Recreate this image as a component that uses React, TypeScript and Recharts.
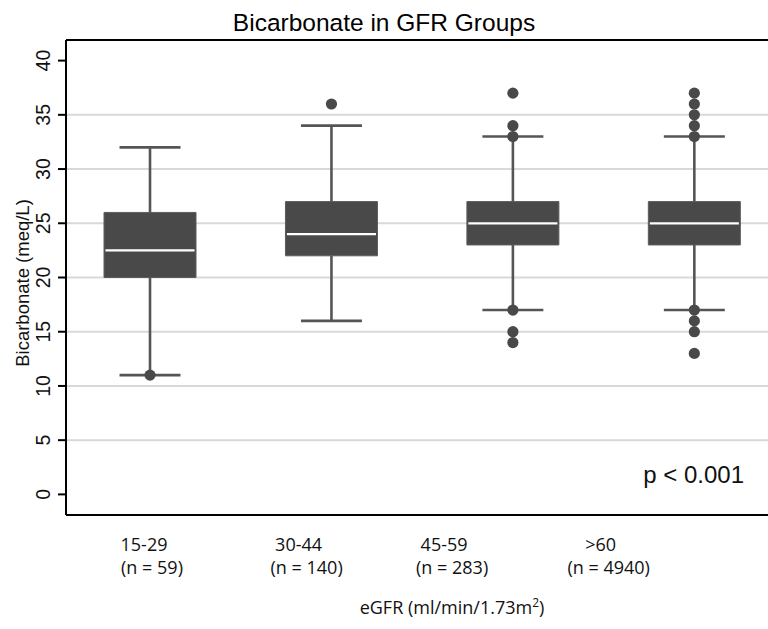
import React from 'react';
import {
  ComposedChart,
  XAxis,
  YAxis,
  CartesianGrid,
  ReferenceArea,
  ReferenceLine,
  Scatter,
  Customized,
} from 'recharts';

// eGFR groups and their box plot statistics (Bicarbonate, meq/L)
const groups = ['15-29', '30-44', '45-59', '>60'];
const counts = [59, 140, 283, 4940];
const q1 = [20, 22, 23, 23];
const median = [22.5, 24, 25, 25];
const q3 = [26, 27, 27, 27];
const whiskerLow = [11, 16, 17, 17];
const whiskerHigh = [32, 34, 33, 33];
const outliers = [
  [11],
  [36],
  [37, 34, 33, 17, 15, 14],
  [37, 36, 35, 34, 33, 17, 16, 15, 13],
];
const yTicks = [0, 5, 10, 15, 20, 25, 30, 35, 40];
const gridValues = [5, 10, 15, 20, 25, 30, 35];

// layout constants
const X_DOMAIN: [number, number] = [0.537, 4.406];
const Y_DOMAIN: [number, number] = [-1.9, 41.9];
const BOX_HALF = 0.2535;
const CAP_HALF = 0.168;
const LABEL_SHIFT = [0.011, -0.137, -0.335, -0.472];
const BOX_COLOR = '#494949';
const LINE_COLOR = '#555555';

const outlierPoints = outliers.flatMap((vals, i) => vals.map((v) => ({ g: i + 1, v })));
const labelTicks = groups.map((_, i) => i + 1 + LABEL_SHIFT[i]);

const XTick = (props: any) => {
  const { x, y, index } = props;
  return (
    <g>
      <text x={x - 8} y={y + 28} textAnchor="middle" fontFamily="'Open Sans', sans-serif" fontSize={18} fill="#111">
        {groups[index]}
      </text>
      <text x={x} y={y + 51} textAnchor="middle" fontFamily="'Open Sans', sans-serif" fontSize={18} fill="#111">
        (n = {counts[index]})
      </text>
    </g>
  );
};

const YTick = (props: any) => {
  const { x, y, payload } = props;
  return (
    <text
      x={x}
      y={y}
      transform={`rotate(-90, ${x}, ${y})`}
      textAnchor="middle"
      fontFamily="'Liberation Sans', Arial, sans-serif"
      fontSize={19.5}
      fill="#111"
    >
      {payload.value}
    </text>
  );
};

const Annotations = () => (
  <g>
    <text x={384} y={31} textAnchor="middle" fontFamily="'Liberation Sans', Arial, sans-serif" fontSize={24.5} fill="#000">
      Bicarbonate in GFR Groups
    </text>
    <text
      x={29}
      y={283}
      transform="rotate(-90, 29, 283)"
      textAnchor="middle"
      fontFamily="'Liberation Sans', Arial, sans-serif"
      fontSize={18.5}
      fill="#111"
    >
      Bicarbonate (meq/L)
    </text>
    <text x={744} y={483} textAnchor="end" fontFamily="'Liberation Sans', Arial, sans-serif" fontSize={24} fill="#111">
      p &lt; 0.001
    </text>
    <text x={452} y={614} textAnchor="middle" fontFamily="'Open Sans', sans-serif" fontSize={18} fill="#111">
      eGFR (ml/min/1.73m
      <tspan fontSize={12} dy={-7}>2</tspan>
      <tspan dy={7}>)</tspan>
    </text>
  </g>
);

const Dot = (props: any) => <circle cx={props.cx} cy={props.cy} r={5.6} fill={BOX_COLOR} />;

export default function App() {
  return (
    <div style={{ position: 'absolute', left: 0, top: 0, width: 768, height: 629, background: '#fff' }}>
      <ComposedChart width={768} height={629} margin={{ top: 40, right: 0, bottom: 0, left: 0 }}>
        <CartesianGrid horizontal vertical={false} horizontalValues={gridValues} stroke="#d9d9d9" strokeWidth={2} />
        <XAxis
          type="number"
          dataKey="g"
          domain={X_DOMAIN}
          allowDataOverflow
          ticks={labelTicks}
          tick={<XTick />}
          tickLine={false}
          axisLine={{ stroke: '#000', strokeWidth: 2 }}
          height={114}
          interval={0}
        />
        <YAxis
          type="number"
          dataKey="v"
          domain={Y_DOMAIN}
          allowDataOverflow
          ticks={yTicks}
          tick={<YTick />}
          tickSize={8}
          tickMargin={8}
          tickLine={{ stroke: '#000', strokeWidth: 2 }}
          axisLine={{ stroke: '#000', strokeWidth: 2 }}
          width={66}
          interval={0}
        />
        <ReferenceLine y={Y_DOMAIN[1]} stroke="#000" strokeWidth={2} ifOverflow="visible" />
        {groups.map((g, i) => (
          <ReferenceLine
            key={`wl-${g}`}
            segment={[{ x: i + 1, y: whiskerLow[i] }, { x: i + 1, y: q1[i] }]}
            stroke={LINE_COLOR}
            strokeWidth={2.6}
          />
        ))}
        {groups.map((g, i) => (
          <ReferenceLine
            key={`wh-${g}`}
            segment={[{ x: i + 1, y: q3[i] }, { x: i + 1, y: whiskerHigh[i] }]}
            stroke={LINE_COLOR}
            strokeWidth={2.6}
          />
        ))}
        {groups.map((g, i) => (
          <ReferenceLine
            key={`cl-${g}`}
            segment={[{ x: i + 1 - CAP_HALF, y: whiskerLow[i] }, { x: i + 1 + CAP_HALF, y: whiskerLow[i] }]}
            stroke={LINE_COLOR}
            strokeWidth={2.6}
          />
        ))}
        {groups.map((g, i) => (
          <ReferenceLine
            key={`ch-${g}`}
            segment={[{ x: i + 1 - CAP_HALF, y: whiskerHigh[i] }, { x: i + 1 + CAP_HALF, y: whiskerHigh[i] }]}
            stroke={LINE_COLOR}
            strokeWidth={2.6}
          />
        ))}
        {groups.map((g, i) => (
          <ReferenceArea
            key={`box-${g}`}
            x1={i + 1 - BOX_HALF}
            x2={i + 1 + BOX_HALF}
            y1={q1[i]}
            y2={q3[i]}
            fill={BOX_COLOR}
            fillOpacity={1}
            stroke="#5c5c5c"
            strokeWidth={1}
          />
        ))}
        {groups.map((g, i) => (
          <ReferenceLine
            key={`med-${g}`}
            segment={[{ x: i + 1 - BOX_HALF + 0.008, y: median[i] }, { x: i + 1 + BOX_HALF - 0.008, y: median[i] }]}
            stroke="#ffffff"
            strokeWidth={2.2}
          />
        ))}
        <Scatter data={outlierPoints} dataKey="v" shape={<Dot />} isAnimationActive={false} />
        <Customized component={<Annotations />} />
      </ComposedChart>
    </div>
  );
}
